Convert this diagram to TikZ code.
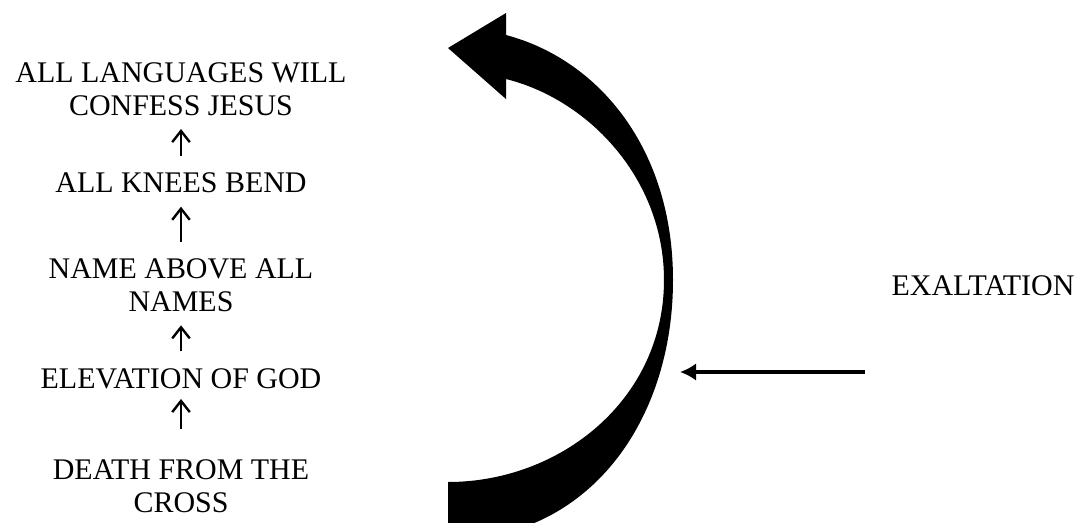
\documentclass[tikz,border=0pt]{standalone}
\usepackage{fontspec}
\setmainfont{Liberation Serif}
\usetikzlibrary{arrows.meta,positioning}

\begin{document}
\begin{tikzpicture}[
  x=0.025cm, y=-0.025cm,
  stage/.style={inner sep=0pt,align=center,font=\fontsize{21.3}{23.4}\selectfont},
  rise/.style={line width=1.7pt,-{Straight Barb[length=2.8mm,width=4.4mm]},shorten >=3.3mm,shorten <=4.2mm},
  push/.style={line width=2.4pt,-{Latex[length=4mm,width=4.4mm]}}
]
  \useasboundingbox (0,0) rectangle (1088,522);

  \node[stage] (langs) at (181,89) {ALL LANGUAGES WILL\\CONFESS JESUS};
  \node[stage,below=1.425cm of langs] (knees) {ALL KNEES BEND};
  \node[stage,below=1.625cm of knees] (name) {NAME ABOVE ALL\\NAMES};
  \node[stage,below=1.4cm of name] (elev) {ELEVATION OF GOD};
  \node[stage,below=1.75cm of elev] (death) {DEATH FROM THE\\CROSS};

  \draw[rise] (knees) -- (langs);
  \draw[rise] (name) -- (knees);
  \draw[rise] (elev) -- (name);
  \draw[rise,shorten >=2.5mm,shorten <=7.5mm] (death) -- (elev);

  % curved arrow
  \begin{scope}
    \clip (0,0) rectangle (1088,522);
    \fill (448,48) -- (506,13) -- (506,35)
      .. controls (600,60) and (673,150) .. (673,280)
      .. controls (673,420) and (590,540) .. (448,540)
      -- (448,482)
      .. controls (560,482) and (664,400) .. (664,280)
      .. controls (664,180) and (590,100) .. (506,79)
      -- (506,99) -- cycle;
  \end{scope}

  \node[stage] (exalt) at (983,286) {EXALTATION};
  \coordinate (pull) at (865,372);
  \coordinate (hit) at (680,372);
  \draw[push] (pull) -- (hit);
\end{tikzpicture}
\end{document}
